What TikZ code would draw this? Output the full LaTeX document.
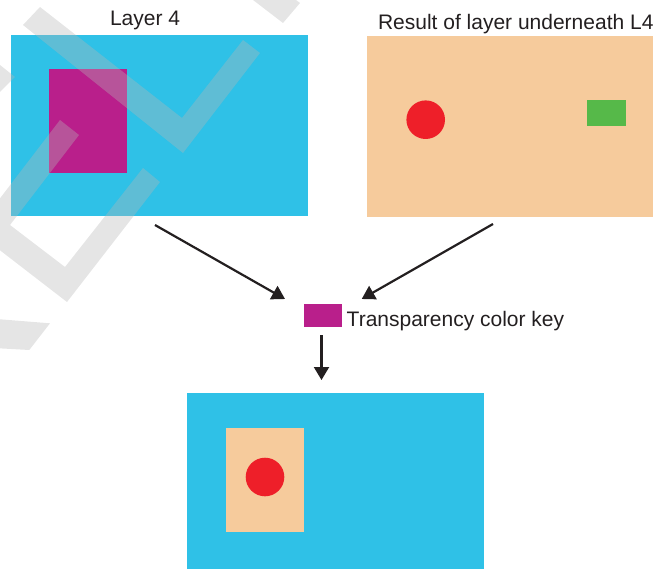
\documentclass[tikz,border=0pt]{standalone}
\usepackage{fontspec}
\setmainfont{Liberation Sans}
\usetikzlibrary{arrows.meta}
\definecolor{skyc}{RGB}{47,193,231}
\definecolor{magc}{RGB}{185,31,139}
\definecolor{peachc}{RGB}{246,203,156}
\definecolor{redc}{RGB}{238,31,41}
\definecolor{greenc}{RGB}{86,185,73}
\definecolor{inkc}{RGB}{35,31,32}
\definecolor{wmc}{RGB}{182,182,182}
\begin{document}
\begin{tikzpicture}[x=1pt,y=-1pt,
  box/.style={draw=none,inner sep=0,outer sep=0,anchor=north west},
  dot/.style={circle,fill=redc,draw=none,inner sep=0,outer sep=0,minimum size=38.6pt},
  lbl/.style={inner sep=0,outer sep=0,anchor=base west,text=inkc,font=\fontsize{21}{24}\selectfont},
  conn/.style={draw=inkc,line width=2.2pt,-{Triangle[length=13pt,width=15pt]}},
  wm/.style={fill=wmc,fill opacity=0.356,draw=none}]
\useasboundingbox (0,0) rectangle (653,569);
% Layer 4
\node[box,fill=skyc,minimum width=297pt,minimum height=181pt] (layer4) at (11,35) {};
\node[box,fill=magc,minimum width=78pt,minimum height=104pt] (mag1) at (49,69) {};
\node[lbl] (t1) at (110,26) {Layer 4};
% Result of layer underneath
\node[box,fill=peachc,minimum width=300pt,minimum height=181pt] (result) at (367,36) {};
\node[dot] (dot1) at (425.7,119.7) {};
\node[box,fill=greenc,minimum width=39pt,minimum height=26pt] (green) at (587,100) {};
\node[lbl] (t2) at (378,29.3) {Result of layer underneath L4};
% key
\node[box,fill=magc,minimum width=38pt,minimum height=23pt] (key) at (304,304) {};
\node[lbl] (t3) at (346.7,326.7) {Transparency color key};
% output
\node[box,fill=skyc,minimum width=297pt,minimum height=181pt] (out) at (187,393) {};
\node[box,fill=peachc,minimum width=78pt,minimum height=104pt] (hole) at (226,428) {};
\node[dot] (dot2) at (265,477) {};
% connectors
\coordinate (a1s) at (155,225);
\coordinate (a1e) at (285,299);
\coordinate (a2s) at (493,224);
\coordinate (a2e) at (361.7,299);
\coordinate (a3s) at (321.5,335);
\coordinate (a3e) at (321.5,380);
\draw[conn] (a1s) -- (a1e);
\draw[conn] (a2s) -- (a2e);
\draw[conn] (a3s) -- (a3e);
% watermark
\fill[wm] (23,25) -- (40,7) -- (182,118) -- (243,40) -- (260,53) -- (183,153) -- cycle;
\fill[wm] (240,-10) -- (283,23) -- (300,3) -- (292,-3) -- cycle;
\fill[wm] (60,120) -- (79,135) -- (10,225) -- (65,267) -- (143,168) -- (160,182) -- (67,302) -- (-25,231) -- cycle;
\fill[wm] (-10,57) -- (15,77) -- (-10,102) -- cycle;
\fill[wm] (-10,318.5) -- (50,323.3) -- (29.3,350) -- (-10,347.8) -- cycle;
\end{tikzpicture}
\end{document}
